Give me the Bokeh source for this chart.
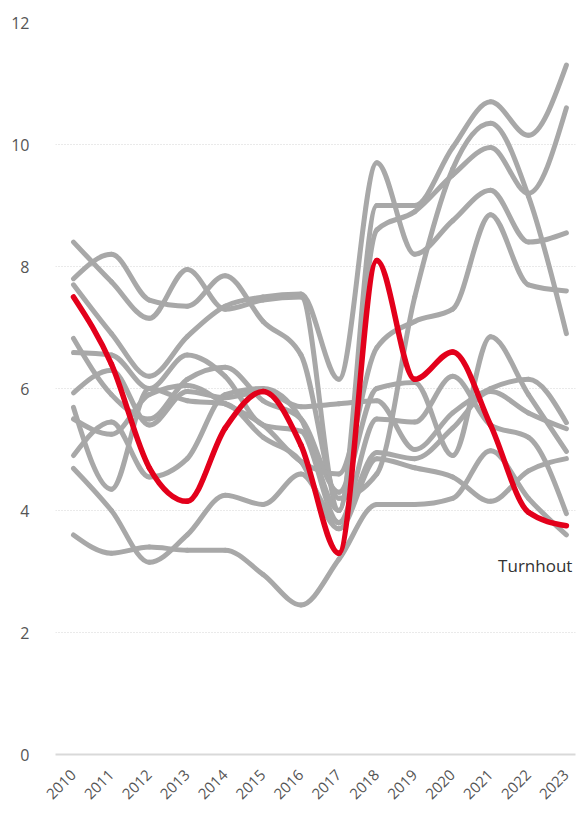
import numpy as np
from bokeh.plotting import figure
from bokeh.models import FixedTicker, Range1d, Label, ColumnDataSource
from bokeh.embed import file_html
from bokeh.resources import INLINE
from math import pi

years = list(range(2010, 2024))

# Grey series (other municipalities)
s_a = [8.4, 7.75, 7.15, 7.95, 7.3, 7.45, 7.5, 4.0, 9.0, 9.0, 9.95, 10.7, 10.15, 11.3]
s_b = [7.8, 8.2, 7.45, 7.35, 7.85, 7.1, 6.55, 4.2, 4.6, 7.5, 9.6, 10.35, 9.15, 6.9]
s_c = [7.7, 6.9, 6.2, 6.85, 7.35, 7.5, 7.55, 6.15, 9.7, 8.2, 8.75, 9.25, 8.4, 8.55]
s_d = [6.82, 5.9, 5.5, 6.15, 6.35, 5.8, 5.5, 4.3, 6.0, 6.1, 4.9, 6.85, 5.9, 4.97]
s_e = [6.59, 6.55, 6.0, 6.55, 6.2, 5.4, 5.3, 3.8, 5.5, 5.45, 6.2, 5.4, 5.2, 3.95]
s_f = [5.93, 6.3, 5.4, 5.95, 5.85, 5.95, 5.7, 5.75, 5.8, 5.0, 5.6, 6.0, 6.15, 5.44]
s_g = [5.69, 4.35, 6.0, 5.8, 5.75, 5.2, 4.8, 3.7, 4.85, 4.7, 4.55, 4.15, 4.65, 4.85]
s_h = [5.5, 5.25, 5.9, 6.05, 5.75, 5.4, 4.8, 4.6, 6.67, 7.1, 7.3, 8.85, 7.7, 7.6]
s_i = [4.9, 5.45, 4.55, 4.85, 5.9, 6.0, 5.5, 4.0, 8.6, 8.9, 9.5, 9.95, 9.2, 10.6]
s_j = [4.69, 4.0, 3.15, 3.6, 4.25, 4.1, 4.6, 3.8, 4.95, 4.85, 5.35, 5.95, 5.6, 5.34]
s_k = [3.6, 3.3, 3.4, 3.35, 3.35, 2.95, 2.45, 3.2, 4.1, 4.1, 4.2, 4.98, 4.2, 3.6]
grey_series = [s_a, s_b, s_c, s_d, s_e, s_f, s_g, s_h, s_i, s_j, s_k]

# Highlighted series
turnhout = [7.5, 6.4, 4.7, 4.15, 5.35, 5.95, 5.07, 3.3, 8.1, 6.15, 6.6, 5.4, 3.97, 3.75]
highlight_name = "Turnhout"

y_ticks = [0, 2, 4, 6, 8, 10, 12]


def monotone_beziers(xs, ys):
    """Cubic Bezier segments of a monotone-x curve through the data points."""
    xs = np.asarray(xs, float)
    ys = np.asarray(ys, float)
    n = len(xs)
    h = np.diff(xs)
    s = np.diff(ys) / h
    t = np.zeros(n)
    for i in range(1, n - 1):
        s0, s1 = s[i - 1], s[i]
        p = (s0 * h[i] + s1 * h[i - 1]) / (h[i - 1] + h[i])
        t[i] = (np.sign(s0) + np.sign(s1)) * min(abs(s0), abs(s1), 0.5 * abs(p))
    t[0] = (3 * s[0] - t[1]) / 2
    t[-1] = (3 * s[-1] - t[-2]) / 2
    d = h / 3.0
    return dict(
        x0=xs[:-1], y0=ys[:-1], x1=xs[1:], y1=ys[1:],
        cx0=xs[:-1] + d, cy0=ys[:-1] + d * t[:-1],
        cx1=xs[1:] - d, cy1=ys[1:] - d * t[1:],
    )


p = figure(width=576, height=810, output_backend="svg", toolbar_location=None,
           x_range=Range1d(2009.525, 2023.24), y_range=Range1d(0, 12),
           min_border_left=55, min_border_right=1, min_border_top=22, min_border_bottom=56)
p.outline_line_color = None
p.background_fill_color = "white"

# grid
p.xgrid.grid_line_color = None
p.ygrid.grid_line_color = "#d4d4d4"
p.ygrid.grid_line_dash = "1 2"
p.ygrid.grid_line_width = 1
p.ygrid.ticker = FixedTicker(ticks=y_ticks)

# axes
p.yaxis.ticker = FixedTicker(ticks=y_ticks)
p.yaxis.axis_line_color = None
p.yaxis.major_tick_line_color = None
p.yaxis.minor_tick_line_color = None
p.yaxis.major_label_standoff = 20
p.yaxis.major_label_text_font = "Open Sans"
p.yaxis.major_label_text_font_size = "16px"
p.yaxis.major_label_text_color = "#555555"

p.xaxis.ticker = FixedTicker(ticks=years)
p.xaxis.axis_line_color = "#d9d9d9"
p.xaxis.axis_line_width = 2
p.xaxis.major_tick_line_color = None
p.xaxis.minor_tick_line_color = None
p.xaxis.major_label_orientation = pi / 4
p.xaxis.major_label_standoff = 12
p.xaxis.major_label_text_font = "Open Sans"
p.xaxis.major_label_text_font_size = "15px"
p.xaxis.major_label_text_color = "#555555"

# grey lines
segs = {k: [] for k in ["x0", "y0", "x1", "y1", "cx0", "cy0", "cx1", "cy1"]}
for ser in grey_series:
    b = monotone_beziers(years, ser)
    for k in segs:
        segs[k].extend(list(b[k]))
p.bezier(x0="x0", y0="y0", x1="x1", y1="y1", cx0="cx0", cy0="cy0", cx1="cx1", cy1="cy1",
         source=ColumnDataSource(segs), line_color="#a8a8a8", line_width=5,
         line_cap="round", line_join="round")

# highlighted line
rb = monotone_beziers(years, turnhout)
p.bezier(x0="x0", y0="y0", x1="x1", y1="y1", cx0="cx0", cy0="cy0", cx1="cx1", cy1="cy1",
         source=ColumnDataSource({k: list(v) for k, v in rb.items()}),
         line_color="#e3001b", line_width=5.5, line_cap="round", line_join="round")

p.add_layout(Label(x=years[-1], y=3.1, text=highlight_name, text_align="right",
                   text_baseline="middle", x_offset=6, text_font="Open Sans",
                   text_font_size="17px", text_color="#333333"))

open("out.html", "w").write(file_html(p, INLINE))
